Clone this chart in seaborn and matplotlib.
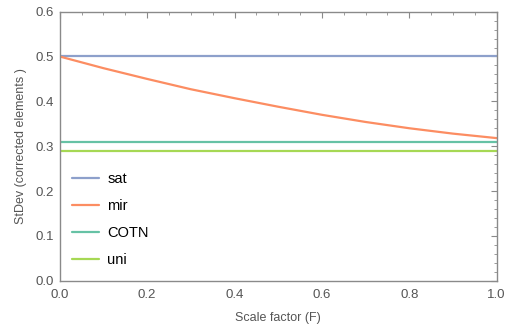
import numpy as np
import pandas as pd
import matplotlib
matplotlib.use("Agg")
import matplotlib.pyplot as plt
from matplotlib.ticker import MultipleLocator
import seaborn as sns

# Standard deviation of corrected elements against the scale factor F
scale_factor = [0.0, 0.1, 0.2, 0.3, 0.4, 0.5, 0.6, 0.7, 0.8, 0.9, 1.0]
sat = [0.500] * len(scale_factor)
mir = [0.500, 0.474, 0.450, 0.427, 0.407, 0.388, 0.370, 0.354, 0.340, 0.328, 0.318]
cotn = [0.309] * len(scale_factor)
uni = [0.2887] * len(scale_factor)

series_names = ["sat", "mir", "COTN", "uni"]
series_values = [sat, mir, cotn, uni]
colors = ["#8da0cb", "#fc8d62", "#66c2a5", "#a6d854"]

df = pd.concat(
    [pd.DataFrame({"F": scale_factor, "StDev": vals, "method": name})
     for name, vals in zip(series_names, series_values)],
    ignore_index=True,
)

sns.set_style("white")
plt.rcParams["font.family"] = ["Liberation Sans", "DejaVu Sans"]

fig = plt.figure(figsize=(5.06, 3.33), dpi=100)
ax = fig.add_axes([0.118, 0.157, 0.8636, 0.808])

sns.lineplot(data=df, x="F", y="StDev", hue="method", hue_order=series_names,
             palette=colors, linewidth=1.6, ax=ax)

ax.set_xlim(0, 1)
ax.set_ylim(0, 0.6)
ax.xaxis.set_major_locator(MultipleLocator(0.2))
ax.xaxis.set_minor_locator(MultipleLocator(0.05))
ax.yaxis.set_major_locator(MultipleLocator(0.1))
ax.yaxis.set_minor_locator(MultipleLocator(0.02))
ax.xaxis.set_major_formatter(matplotlib.ticker.FormatStrFormatter("%.1f"))
ax.yaxis.set_major_formatter(matplotlib.ticker.FormatStrFormatter("%.1f"))

frame_color = "#8a8a8a"
for side in ax.spines.values():
    side.set_color(frame_color)
    side.set_linewidth(1.0)

ax.tick_params(which="both", direction="in", top=True, right=True,
               color=frame_color, labelcolor="#555555", labelsize=9.5)
ax.tick_params(which="major", length=4, width=0.8, pad=4)
ax.tick_params(which="minor", length=2.2, width=0.6)
ax.tick_params(axis="x", which="major", pad=6)

ax.set_xlabel("Scale factor (F)", fontsize=9, color="#555555", labelpad=8)
ax.set_ylabel("StDev (corrected elements )", fontsize=9, color="#555555", labelpad=6)

leg = ax.legend(loc="lower left", bbox_to_anchor=(-0.006, -0.005), frameon=False,
                fontsize=10.5, handlelength=1.85, handletextpad=0.6,
                labelspacing=0.9, borderaxespad=0.6)
for text in leg.get_texts():
    text.set_color("black")
for line in leg.get_lines():
    line.set_linewidth(1.6)

fig.savefig("out.png", dpi=100)
